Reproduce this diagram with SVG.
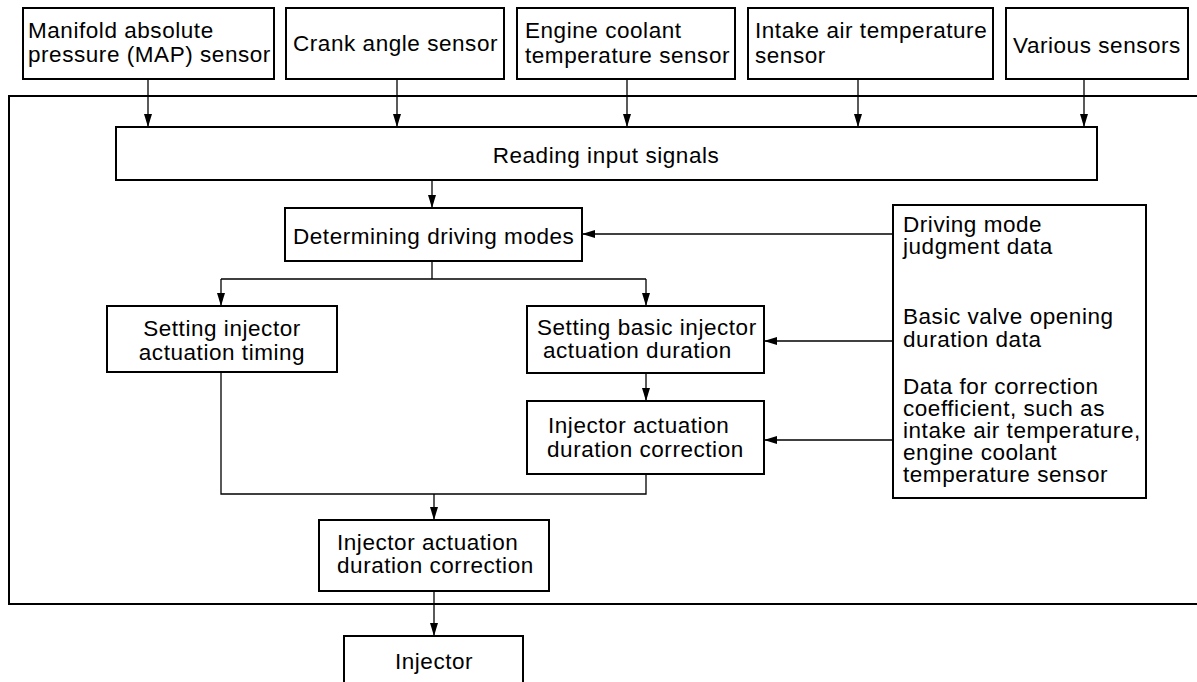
<svg xmlns="http://www.w3.org/2000/svg" width="1197" height="682" viewBox="0 0 1197 682">
<defs>
<style>
.box{fill:#fff;stroke:#000;stroke-width:2}
.frame{fill:none;stroke:#000;stroke-width:2}
.t{font-family:"Liberation Sans",Arial,sans-serif;font-size:22.5px;letter-spacing:0.55px;fill:#000}
.c{text-anchor:middle}
.ln{fill:none;stroke:#000;stroke-width:1.3}
.ar{fill:none;stroke:#000;stroke-width:1.3;marker-end:url(#ah)}
.ak{font-family:"Liberation Sans",Arial,sans-serif;font-size:15px;font-weight:bold;fill:#000}
</style>
<marker id="ah" markerUnits="userSpaceOnUse" markerWidth="14" markerHeight="10" refX="13" refY="4" orient="auto">
<path d="M0,0 L13,4 L0,8 Z" fill="#000"/>
</marker>
</defs>
<rect width="1197" height="682" fill="#fff"/>
<rect id="frame" class="frame" x="9" y="96" width="1200" height="508"/>

<g id="map-sensor"><rect class="box" x="23" y="8" width="251" height="71"/>
<text class="t" x="28" y="38">Manifold absolute</text><text class="t" x="28" y="62">pressure (MAP) sensor</text></g>
<g id="crank-sensor"><rect class="box" x="286" y="8" width="218" height="71"/>
<text class="t" x="293" y="51">Crank angle sensor</text></g>
<g id="coolant-sensor"><rect class="box" x="517" y="8" width="218" height="71"/>
<text class="t" x="525" y="38">Engine coolant</text><text class="t" x="525" y="63">temperature sensor</text></g>
<g id="intake-sensor"><rect class="box" x="748" y="8" width="245" height="71"/>
<text class="t" x="755" y="38">Intake air temperature</text><text class="t" x="755" y="63">sensor</text></g>
<g id="various-sensors"><rect class="box" x="1006" y="8" width="182" height="71"/>
<text class="t" x="1013" y="53">Various sensors</text></g>

<g id="reading"><rect class="box" x="116" y="127" width="981" height="53"/>
<text class="t c" x="606" y="163">Reading input signals</text></g>
<g id="determining"><rect class="box" x="285" y="208" width="297" height="53"/>
<text class="t" x="293" y="244">Determining driving modes</text></g>
<g id="timing"><rect class="box" x="107" y="306" width="230" height="66"/>
<text class="t c" x="222" y="336">Setting injector</text><text class="t c" x="222" y="360">actuation timing</text></g>
<g id="basic-duration"><rect class="box" x="527" y="306" width="237" height="67"/>
<text class="t" x="537" y="335">Setting basic injector</text><text class="t" x="543" y="358">actuation duration</text></g>
<g id="correction1"><rect class="box" x="527" y="401" width="237" height="73"/>
<text class="t" x="548" y="433">Injector actuation</text><text class="t" x="547" y="457">duration correction</text></g>
<g id="data"><rect class="box" x="893" y="205" width="253" height="293"/>
<text class="t" x="903" y="232">Driving mode</text><text class="t" x="903" y="254">judgment data</text>
<text class="t" x="903" y="324">Basic valve opening</text><text class="t" x="903" y="347">duration data</text>
<text class="t" x="903" y="394">Data for correction</text><text class="t" x="903" y="416">coefficient, such as</text><text class="t" x="903" y="438">intake air temperature,</text><text class="t" x="903" y="460">engine coolant</text><text class="t" x="903" y="482">temperature sensor</text></g>
<g id="correction2"><rect class="box" x="319" y="520" width="230" height="71"/>
<text class="t" x="337" y="550">Injector actuation</text><text class="t" x="337" y="573">duration correction</text></g>
<g id="injector"><rect class="box" x="344" y="636" width="179" height="60"/>
<text class="t c" x="434" y="669">Injector</text></g>

<g id="connectors">
<path class="ar" d="M148,79 V127"/>
<path class="ar" d="M397,79 V127"/>
<path class="ar" d="M627,79 V127"/>
<path class="ar" d="M858,79 V127"/>
<path class="ar" d="M1084,79 V127"/>
<path class="ar" d="M432,180 V208"/>
<path class="ln" d="M432,261 V279 M221,279 H646"/>
<path class="ar" d="M221,279 V306"/>
<path class="ar" d="M646,279 V306"/>
<path class="ar" d="M893,234 H582"/>
<path class="ar" d="M893,341 H764"/>
<path class="ar" d="M893,440 H764"/>
<path class="ar" d="M646,373 V401"/>
<path class="ln" d="M221,372 V494 H646 V474"/>
<path class="ar" d="M434,494 V520"/>
<path class="ar" d="M434,591 V636"/>
</g>
<text class="ak" x="1173" y="692">AK</text>
</svg>
